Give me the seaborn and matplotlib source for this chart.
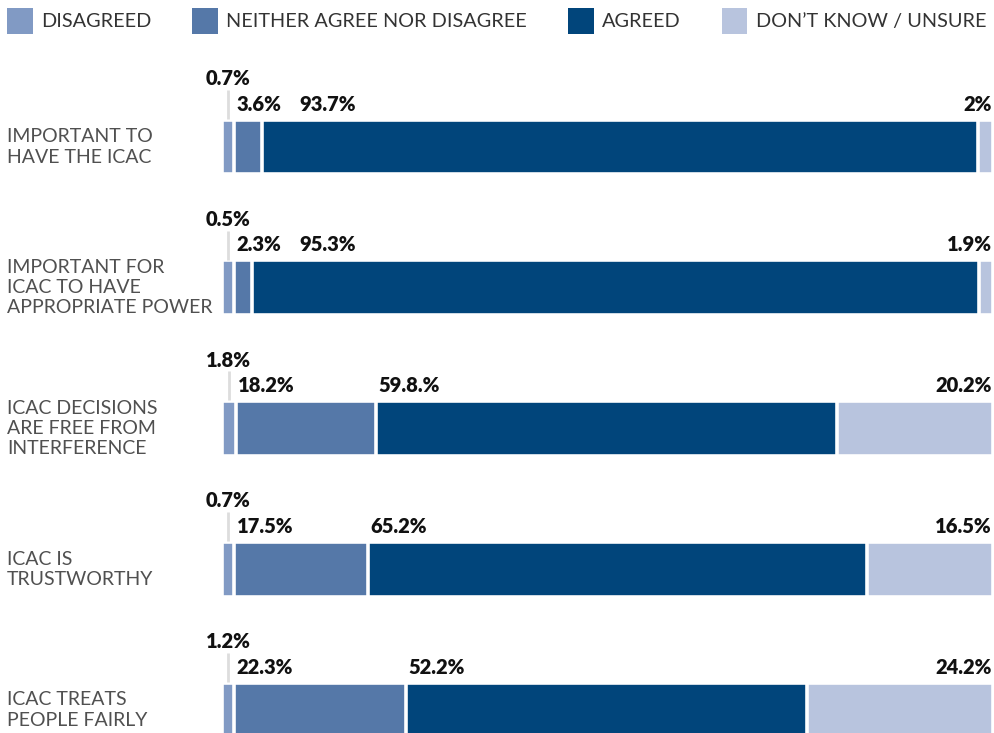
import numpy as np
import pandas as pd
import matplotlib
matplotlib.use("Agg")
import matplotlib.pyplot as plt
import seaborn as sns
from matplotlib.patches import Patch
from matplotlib.transforms import blended_transform_factory

# ---- data ----
categories = [
    "IMPORTANT TO\nHAVE THE ICAC",
    "IMPORTANT FOR\nICAC TO HAVE\nAPPROPRIATE POWER",
    "ICAC DECISIONS\nARE FREE FROM\nINTERFERENCE",
    "ICAC IS\nTRUSTWORTHY",
    "ICAC TREATS\nPEOPLE FAIRLY",
]
series_names = ["DISAGREED", "NEITHER AGREE NOR DISAGREE", "AGREED", "DON\u2019T KNOW / UNSURE"]
disagreed = [0.7, 0.5, 1.8, 0.7, 1.2]
neither = [3.6, 2.3, 18.2, 17.5, 22.3]
agreed = [93.7, 95.3, 59.8, 65.2, 52.2]
dont_know = [2.0, 1.9, 20.2, 16.5, 24.2]
disagreed_labels = ["0.7%", "0.5%", "1.8%", "0.7%", "1.2%"]
neither_labels = ["3.6%", "2.3%", "18.2%", "17.5%", "22.3%"]
agreed_labels = ["93.7%", "95.3%", "59.8.%", "65.2%", "52.2%"]
dont_know_labels = ["2%", "1.9%", "20.2%", "16.5%", "24.2%"]

colors = ["#819AC4", "#5578A8", "#01457B", "#B8C4DE"]

# ---- display widths (minimum visible width, rows normalised to 100) ----
vals = np.array([disagreed, neither, agreed, dont_know], dtype=float).T
disp = np.maximum(vals, 1.6)
disp = disp / disp.sum(axis=1, keepdims=True) * 100
cum = np.cumsum(disp, axis=1)

df = pd.DataFrame({"category": categories})
for i in range(4):
    df[f"c{i}"] = cum[:, i]

sns.set_theme(style="white")
plt.rcParams["font.family"] = ["Lato", "DejaVu Sans"]

fig = plt.figure(figsize=(9.94, 7.33), dpi=100)
W, H = 994, 733
x0, x1 = 222, 993
ax = fig.add_axes([x0 / W, 0, (x1 - x0) / W, 1])

bar_h = 0.39
for i in [3, 2, 1, 0]:
    sns.barplot(data=df, x=f"c{i}", y="category", orient="h", color=colors[i],
                width=bar_h, edgecolor="white", linewidth=2.6, saturation=1,
                ax=ax, order=categories)

px = 140.75  # pixels per row unit
ax.set_xlim(0, 100)
ax.set_ylim(4 + 23 / px, -147 / px)
ax.axis("off")

trans_fig = blended_transform_factory(fig.transFigure, ax.transData)
lab_kw = dict(fontsize=14.5, fontweight="heavy", color="#111111")
for r, cat in enumerate(categories):
    # category label
    ax.text(7 / W, r, cat, transform=trans_fig, ha="left", va="center",
            fontsize=14, fontweight="normal", color="#505050", linespacing=1.22)
    s1 = cum[r, 0]
    s2 = cum[r, 1]
    # disagreed label with leader line
    cx = s1 / 2
    ax.plot([cx, cx], [r - 0.405, r - 0.2], color="#DDDDDD", lw=2, solid_capstyle="butt")
    ax.text(cx, r - 0.44, disagreed_labels[r], ha="center", va="baseline", **lab_kw)
    # neither label
    ax.text(s1 + 0.3, r - 0.258, neither_labels[r], ha="left", va="baseline", **lab_kw)
    # agreed label
    ax.text(max(s2 + 0.3, 10.0), r - 0.258, agreed_labels[r], ha="left", va="baseline", **lab_kw)
    # don't know label
    ax.text(99.8, r - 0.258, dont_know_labels[r], ha="right", va="baseline", **lab_kw)

handles = [Patch(facecolor=c, edgecolor="none") for c in colors]
fig.legend(handles, series_names, loc="upper left", bbox_to_anchor=(7 / W, 1 - 8 / H),
           ncol=4, frameon=False, borderpad=0, borderaxespad=0,
           handlelength=1.3, handleheight=1.6, handletextpad=0.42,
           columnspacing=2.05, prop=dict(size=14.3, weight="normal"), labelcolor="#333333")

fig.savefig("out.png", dpi=100)
